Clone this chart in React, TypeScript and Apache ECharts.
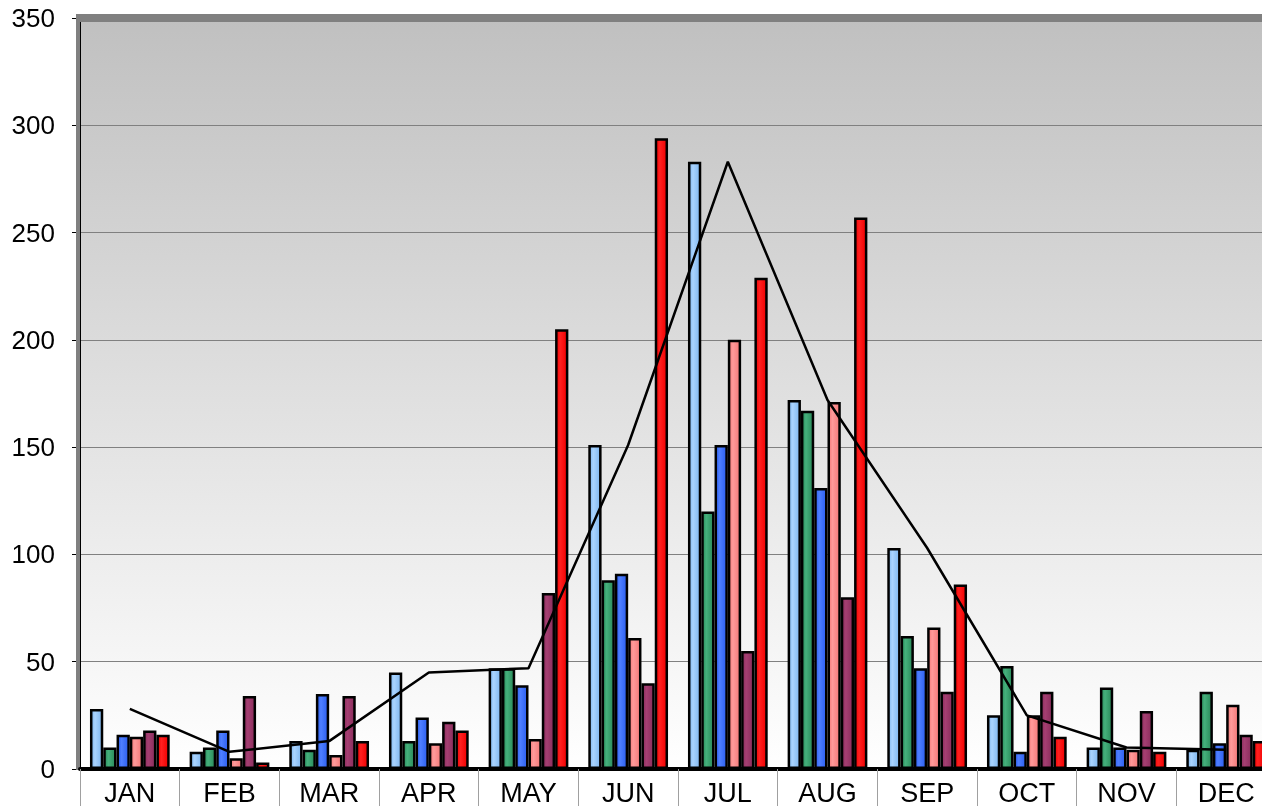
import React, { useEffect, useRef } from "react";
import * as echarts from "echarts";

const months = ["JAN", "FEB", "MAR", "APR", "MAY", "JUN", "JUL", "AUG", "SEP", "OCT", "NOV", "DEC"];
const seriesA = [28, 8, 13, 45, 47, 151, 283, 172, 103, 25, 10, 9];
const seriesB = [10, 10, 9, 13, 47, 88, 120, 167, 62, 48, 38, 36];
const seriesC = [16, 18, 35, 24, 39, 91, 151, 131, 47, 8, 10, 12];
const seriesD = [15, 5, 6.5, 12, 14, 61, 200, 171, 66, 25, 9, 30];
const seriesE = [18, 34, 34, 22, 82, 40, 55, 80, 36, 36, 27, 16];
const seriesF = [16, 3, 13, 18, 205, 294, 229, 257, 86, 15, 8, 13];
const lineValues = [28, 8, 13, 45, 47, 151, 283, 172, 103, 25, 10, 9];
const yTicks = { min: 0, max: 350, interval: 50 };

const barColors: [string, string][] = [
  ["#7fb6ee", "#aad4ff"],
  ["#2a8a5a", "#45b07c"],
  ["#2b5ef0", "#4f7fff"],
  ["#f47878", "#ff9a9a"],
  ["#8a2d5c", "#a53f72"],
  ["#f00000", "#ff2020"],
];

function grad(edge: string, mid: string) {
  return new echarts.graphic.LinearGradient(0, 0, 1, 0, [
    { offset: 0, color: edge },
    { offset: 0.35, color: mid },
    { offset: 1, color: edge },
  ]);
}

export default function App() {
  const ref = useRef<HTMLDivElement>(null);
  useEffect(() => {
    if (!ref.current) return;
    const chart = echarts.init(ref.current, null, { renderer: "svg" });
    const barData = [seriesA, seriesB, seriesC, seriesD, seriesE, seriesF];
    const font = "'Liberation Sans', Arial, sans-serif";
    chart.setOption({
      animation: false,
      grid: {
        left: 80,
        top: 18,
        bottom: 36,
        right: 14,
        show: true,
        borderWidth: 0,
        backgroundColor: new echarts.graphic.LinearGradient(0, 0, 0, 1, [
          { offset: 0, color: "#c0c0c0" },
          { offset: 1, color: "#ffffff" },
        ]),
      },
      graphic: [
        { type: "rect", shape: { x: 76, y: 14, width: 1300, height: 8 }, style: { fill: "#808080" }, z: 1 },
        { type: "rect", shape: { x: 76, y: 14, width: 4, height: 756 }, style: { fill: "#808080" }, z: 1 },
      ],
      xAxis: {
        type: "category",
        data: months,
        boundaryGap: true,
        axisLine: { show: true, lineStyle: { color: "#000", width: 4 } },
        axisTick: { show: true, length: 40, interval: 0, lineStyle: { color: "#a0a0a0", width: 1 } },
        axisLabel: { fontSize: 27, color: "#000", fontFamily: font, margin: 10, interval: 0 },
        splitLine: { show: false },
        z: 5,
      },
      yAxis: {
        type: "value",
        min: yTicks.min,
        max: yTicks.max,
        interval: yTicks.interval,
        axisLine: { show: true, lineStyle: { color: "#000", width: 1 } },
        axisTick: { show: true, length: 8, lineStyle: { color: "#000" } },
        axisLabel: { fontSize: 26, color: "#000", fontFamily: font, margin: 25 },
        splitLine: { show: true, lineStyle: { color: "#808080", width: 1 } },
      },
      series: [
        ...barData.map((d, i) => ({
          type: "bar",
          data: d,
          barGap: "0%",
          barCategoryGap: "20%",
          itemStyle: {
            color: grad(barColors[i][0], barColors[i][1]),
            borderColor: "#000",
            borderWidth: 2.5,
          },
          z: 2,
        })),
        {
          type: "line",
          data: lineValues,
          symbol: "none",
          lineStyle: { color: "#000", width: 2.5 },
          z: 4,
        },
      ],
    });
    return () => chart.dispose();
  }, []);
  return (
    <div style={{ position: "fixed", left: 0, top: 0, width: 1262, height: 806, overflow: "hidden" }}>
      <div ref={ref} style={{ width: 1290, height: 806 }} />
    </div>
  );
}
